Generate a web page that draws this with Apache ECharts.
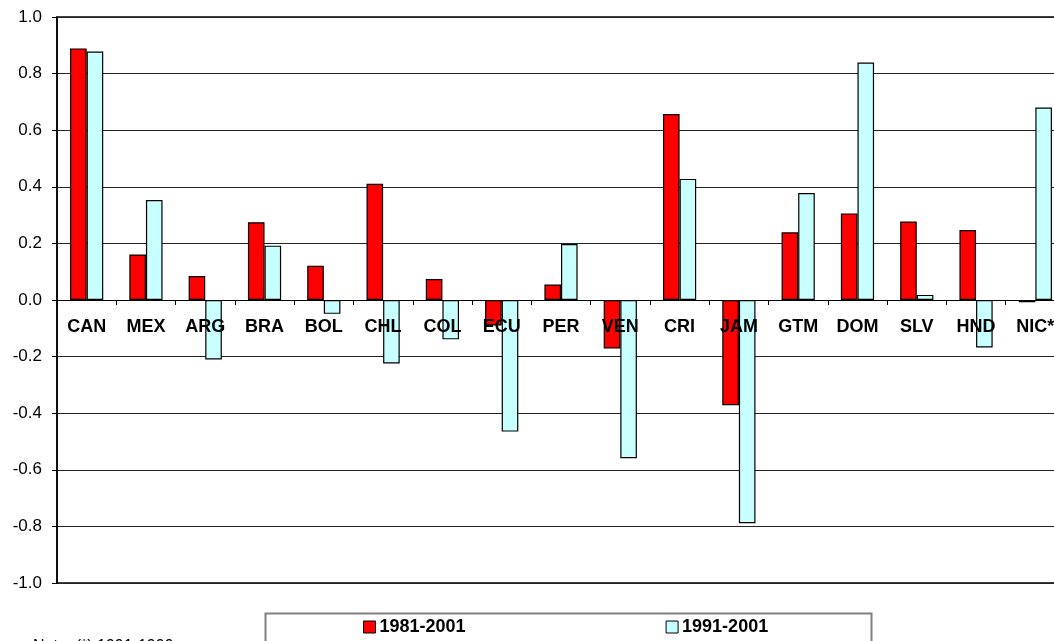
<!DOCTYPE html>
<html>
<head>
<meta charset="utf-8">
<script src="https://cdn.jsdelivr.net/npm/echarts@6/dist/echarts.min.js"></script>
<style>
html,body{margin:0;padding:0;background:#fff;}
#chart{width:1054px;height:641px;}
</style>
</head>
<body>
<div id="chart"></div>
<script>
const categories = ['CAN','MEX','ARG','BRA','BOL','CHL','COL','ECU','PER','VEN','CRI','JAM','GTM','DOM','SLV','HND','NIC*'];
const series1981 = [0.889, 0.161, 0.085, 0.275, 0.121, 0.411, 0.074, -0.09, 0.055, -0.171, 0.657, -0.372, 0.239, 0.306, 0.277, 0.247, -0.008];
const series1991 = [0.878, 0.353, -0.210, 0.192, -0.049, -0.224, -0.139, -0.465, 0.198, -0.559, 0.428, -0.789, 0.378, 0.839, 0.018, -0.168, 0.680];
const yTicks = { min: -1, max: 1, interval: 0.2 };
const seriesNames = ['1981-2001', '1991-2001'];
const noteText = 'Note: (*) 1991-1999';

const chart = echarts.init(document.getElementById('chart'), null, { renderer: 'canvas' });
const FONT = '"Liberation Sans", Arial, sans-serif';

chart.setOption({
  animation: false,
  backgroundColor: '#ffffff',
  grid: { left: 57, top: 17, bottom: 58, right: -11, containLabel: false, outerBoundsMode: 'none',
          show: true, borderColor: '#000', borderWidth: 1.5, backgroundColor: 'transparent' },
  legend: {
    data: seriesNames,
    left: 358,
    top: 613,
    itemWidth: 12,
    itemHeight: 12,
    itemGap: 200,
    icon: 'rect',
    textStyle: { fontFamily: FONT, fontSize: 18, fontWeight: 'bold', color: '#000', padding: [0, 0, 0, -1] },
    itemStyle: { borderColor: '#000', borderWidth: 1 }
  },
  xAxis: {
    type: 'category',
    data: categories,
    z: 10,
    axisLine: { onZero: true, lineStyle: { color: '#000', width: 1 } },
    axisTick: { show: true, length: 5, lineStyle: { color: '#000' } },
    axisLabel: { fontFamily: FONT, fontSize: 18, fontWeight: 'bold', color: '#000', margin: -265, interval: 0 }
  },
  yAxis: {
    type: 'value',
    min: yTicks.min,
    max: yTicks.max,
    interval: yTicks.interval,
    axisLine: { show: true, lineStyle: { color: '#000', width: 1.5 } },
    axisTick: { show: true, length: 5, lineStyle: { color: '#000' } },
    axisLabel: {
      fontFamily: FONT, fontSize: 17, color: '#000', margin: 15,
      formatter: v => v.toFixed(1)
    },
    splitLine: { show: true, lineStyle: { color: '#222', width: 1 } }
  },
  series: [{
    name: seriesNames[0],
    type: 'bar',
    data: series1981,
    barGap: '0%',
    barCategoryGap: '44%',
    itemStyle: { color: '#FF0000', borderColor: '#000', borderWidth: 1.2 }
  }, {
    name: seriesNames[1],
    type: 'bar',
    data: series1991,
    barGap: '0%',
    barCategoryGap: '44%',
    itemStyle: { color: '#C8FFFF', borderColor: '#000', borderWidth: 1.2 }
  }],
  graphic: [{
    type: 'rect',
    left: 263, top: 611,
    shape: { width: 606, height: 50 },
    style: { fill: 'none', stroke: '#808080', lineWidth: 2 },
    z: -1
  }, {
    type: 'text',
    left: 33, top: 639,
    style: { text: noteText, font: '16px ' + FONT, fill: '#000' }
  }]
});
</script>
</body>
</html>
